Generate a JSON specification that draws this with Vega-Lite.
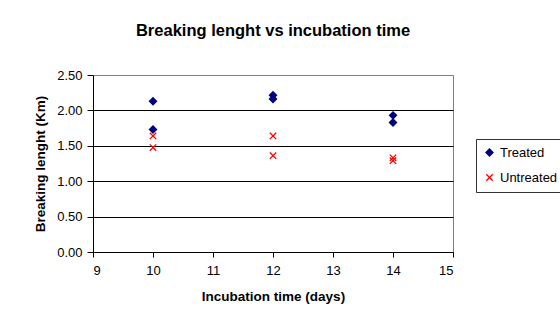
{
  "$schema": "https://vega.github.io/schema/vega-lite/v6.json",
  "autosize": {"type": "none"},
  "padding": {"left": 93, "top": 75, "right": 107, "bottom": 72},
  "width": 360,
  "height": 177,
  "background": "white",
  "title": {
    "text": "Breaking lenght vs incubation time",
    "font": "Liberation Sans",
    "fontSize": 16.5,
    "fontWeight": "bold",
    "color": "black",
    "anchor": "middle",
    "frame": "group",
    "offset": 30
  },
  "data": {
    "values": [
      {"day": 10, "km": 2.13, "series": "Treated"},
      {"day": 10, "km": 1.73, "series": "Treated"},
      {"day": 12, "km": 2.215, "series": "Treated"},
      {"day": 12, "km": 2.16, "series": "Treated"},
      {"day": 14, "km": 1.93, "series": "Treated"},
      {"day": 14, "km": 1.83, "series": "Treated"},
      {"day": 10, "km": 1.64, "series": "Untreated"},
      {"day": 10, "km": 1.475, "series": "Untreated"},
      {"day": 12, "km": 1.64, "series": "Untreated"},
      {"day": 12, "km": 1.36, "series": "Untreated"},
      {"day": 14, "km": 1.33, "series": "Untreated"},
      {"day": 14, "km": 1.29, "series": "Untreated"}
    ]
  },
  "mark": {"type": "point", "filled": false, "strokeWidth": 1.3, "opacity": 1},
  "encoding": {
    "x": {
      "field": "day",
      "type": "quantitative",
      "scale": {"domain": [9, 15], "nice": false, "zero": false},
      "axis": {
        "title": "Incubation time (days)",
        "values": [9, 10, 11, 12, 13, 14, 15],
        "grid": false,
        "tickSize": 5,
        "labelPadding": 7,
        "titlePadding": 12
      }
    },
    "y": {
      "field": "km",
      "type": "quantitative",
      "scale": {"domain": [0, 2.5], "nice": false},
      "axis": {
        "title": "Breaking lenght (Km)",
        "values": [0, 0.5, 1, 1.5, 2, 2.5],
        "format": ".2f",
        "grid": true,
        "gridColor": {"condition": {"test": "datum.value === 2.5 || datum.value === 0", "value": "#808080"}, "value": "black"},
        "gridOpacity": 1,
        "tickSize": 6,
        "labelPadding": 5,
        "titlePadding": 9
      }
    },
    "color": {
      "field": "series",
      "type": "nominal",
      "scale": {"domain": ["Treated", "Untreated"], "range": ["#000080", "#ff0000"]},
      "legend": {
        "title": null,
        "orient": "none",
        "legendX": 383,
        "legendY": 64,
        "strokeColor": "#333333",
        "padding": 7,
        "rowPadding": 11,
        "labelFont": "Liberation Sans",
        "labelFontSize": 13,
        "labelColor": "black",
        "symbolSize": 50,
        "symbolStrokeWidth": 1.3,
        "labelOffset": 4,
        "fillColor": "white"
      }
    },
    "fill": {
      "field": "series",
      "type": "nominal",
      "scale": {"domain": ["Treated", "Untreated"], "range": ["#000080", "transparent"]},
      "legend": null
    },
    "shape": {
      "field": "series",
      "type": "nominal",
      "scale": {"domain": ["Treated", "Untreated"], "range": ["diamond", "M-0.8,-0.8L0.8,0.8M-0.8,0.8L0.8,-0.8"]},
      "legend": null
    },
    "size": {
      "field": "series",
      "type": "nominal",
      "scale": {"domain": ["Treated", "Untreated"], "range": [50, 64]},
      "legend": null
    }
  },
  "config": {
    "font": "Liberation Sans",
    "view": {"stroke": "#808080", "strokeWidth": 1},
    "axis": {
      "domainColor": "black",
      "tickColor": "black",
      "labelColor": "black",
      "titleColor": "black",
      "labelFont": "Liberation Sans",
      "labelFontSize": 13,
      "titleFont": "Liberation Sans",
      "titleFontSize": 13.5,
      "titleFontWeight": "bold"
    }
  }
}
